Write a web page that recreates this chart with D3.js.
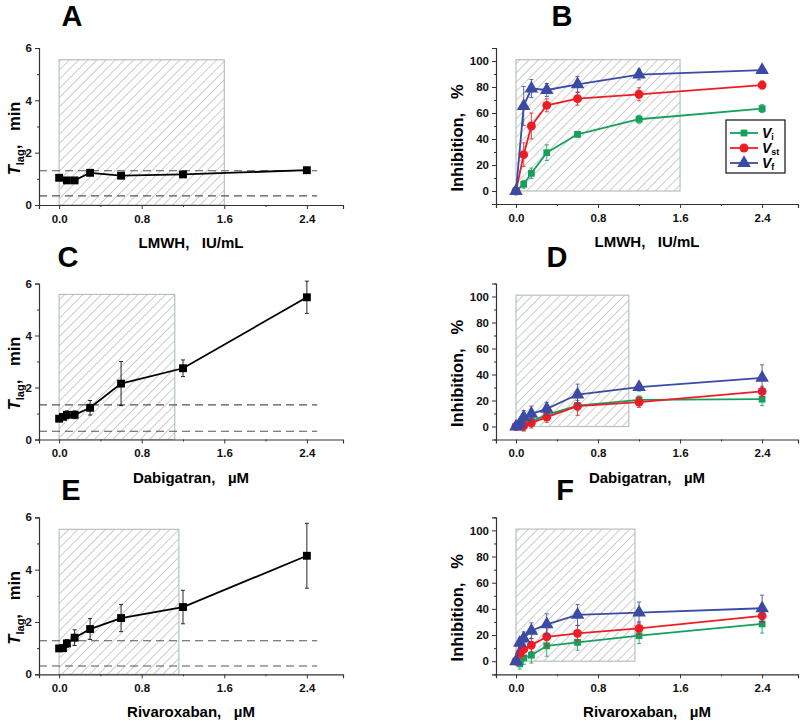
<!DOCTYPE html>
<html>
<head>
<script src="https://d3js.org/d3.v7.min.js"></script>
<style>
  body { margin: 0; background: #fff; }
  text { font-family: "Liberation Sans", Arial, sans-serif; }
</style>
</head>
<body>
<div id="chart"></div>
<script>
// ---- data ----
var dosesLmwh = [0, 0.075, 0.15, 0.3, 0.6, 1.2, 2.4];
var dosesOral = [0, 0.0375, 0.075, 0.15, 0.3, 0.6, 1.2, 2.4];

// T lag, min
var lmwhTlag    = [1.04, 0.94, 0.94, 1.23, 1.12, 1.17, 1.33];
var lmwhTlagErr = [0.08, 0.07, 0.07, 0.09, 0.09, 0.08, 0.1];
var dabiTlag    = [0.80, 0.87, 0.95, 0.95, 1.22, 2.15, 2.74, 5.47];
var dabiTlagErr = [0.08, 0.1, 0.15, 0.15, 0.28, 0.85, 0.32, 0.62];
var rivaTlag    = [0.99, 1.0, 1.18, 1.40, 1.73, 2.15, 2.57, 4.53];
var rivaTlagErr = [0.1, 0.1, 0.15, 0.3, 0.4, 0.52, 0.64, 1.24];

// inhibition, %
var lmwhVi  = [0, 5.2, 13.6, 29.5, 43.6, 55.2, 63.4];
var lmwhViErr  = [1, 3, 4, 6, 2, 3, 3];
var lmwhVst = [0, 28, 50, 65.9, 71, 74.4, 81.5];
var lmwhVstErr = [1, 9, 10, 5, 5, 5, 3];
var lmwhVf  = [0, 65.4, 78.8, 77.7, 82, 89.5, 93];
var lmwhVfErr  = [1, 15, 7, 5, 6, 4, 2];

var dabiVi  = [0, 1, 2, 4, 9, 16, 20.5, 21];
var dabiViErr  = [1, 3, 5, 4, 4, 4, 3, 5];
var dabiVst = [0, 0.5, 0.5, 2.8, 7.2, 15.6, 18.7, 27];
var dabiVstErr = [1, 3, 4, 4, 4, 7, 4, 4];
var dabiVf  = [0, 2, 7.2, 9.7, 13.6, 24.6, 30.3, 37.4];
var dabiVfErr  = [1, 3, 5, 6, 5, 8, 3, 10];

var rivaVi  = [0, -2, 2.6, 4.6, 11.8, 14.4, 19.5, 28.5];
var rivaViErr  = [1, 4, 5, 6, 8, 6, 6, 7];
var rivaVst = [0, 6, 9, 12.3, 18.7, 21.3, 25.1, 34.6];
var rivaVstErr = [1, 4, 5, 5, 7, 6, 5, 5];
var rivaVf  = [0, 14, 17.4, 23.3, 28.2, 35.4, 37.2, 40.5];
var rivaVfErr  = [1, 4, 5, 6, 8, 8, 8, 10];

// shaded therapeutic range (upper dose) and normal T lag band
var rangeLmwh = 1.6, rangeDabiT = 1.12, rangeDabiI = 1.1, rangeRivaT = 1.16, rangeRivaI = 1.16;
var normLmwh = [0.35, 1.31], normDabi = [0.32, 1.33], normRiva = [0.32, 1.28];

var xTicks = [0, 0.8, 1.6, 2.4], xMinor = [0.4, 1.2, 2.0];
var tTicks = [0, 2, 4, 6], tMinor = [1, 3, 5];
var iTicks = [0, 20, 40, 60, 80, 100], iMinor = [-10, 10, 30, 50, 70, 90, 110];

var seriesNames = ["i", "st", "f"];
var seriesColors = ["#17a05d", "#ee1d25", "#3a4aa5"];
var seriesShapes = [d3.symbolSquare, d3.symbolCircle, d3.symbolTriangle];

var W = 800, H = 721;
var svg = d3.select("#chart").append("svg").attr("width", W).attr("height", H);

var defs = svg.append("defs");
var pat = defs.append("pattern").attr("id", "hatch").attr("patternUnits", "userSpaceOnUse")
  .attr("width", 6.5).attr("height", 6.5).attr("patternTransform", "rotate(45)");
pat.append("line").attr("x1", 0).attr("y1", 0).attr("x2", 0).attr("y2", 6.5)
  .attr("stroke", "#8f8f8f").attr("stroke-width", 0.9);

var NB = "\u00a0";

function panel(o) {
  var g = svg.append("g");
  var x = d3.scaleLinear().domain([-0.195, 2.75]).range([o.left, o.left + o.w]);
  var y = d3.scaleLinear().domain(o.ydom).range([o.bottom, o.top]);

  // hatched range
  g.append("rect")
    .attr("x", x(0)).attr("y", y(o.hatchTop))
    .attr("width", x(o.hatchEnd) - x(0)).attr("height", y(o.ydom[0] < 0 ? 0 : o.ydom[0]) - y(o.hatchTop))
    .attr("fill", "url(#hatch)").attr("stroke", "#b4c2bc").attr("stroke-width", 1.2);

  // reference dashed lines
  if (o.norm) {
    o.norm.forEach(function(v) {
      g.append("line").attr("x1", o.left).attr("x2", x(2.5))
        .attr("y1", y(v)).attr("y2", y(v))
        .attr("stroke", "#555").attr("stroke-width", 1.1).attr("stroke-dasharray", "8,5");
    });
  }

  // axes
  var xa = g.append("g").attr("transform", "translate(0," + o.bottom + ")")
    .call(d3.axisBottom(x).tickValues(xTicks).tickSize(4).tickFormat(d3.format(".1f")));
  g.append("g").attr("transform", "translate(0," + o.bottom + ")")
    .call(d3.axisBottom(x).tickValues(xMinor).tickSize(2).tickFormat(""))
    .select(".domain").remove();
  g.append("g").attr("transform", "translate(" + o.left + ",0)")
    .call(d3.axisLeft(y).tickValues(o.yticks).tickSize(4).tickFormat(d3.format("d")));
  g.append("g").attr("transform", "translate(" + o.left + ",0)")
    .call(d3.axisLeft(y).tickValues(o.yminor).tickSize(2).tickFormat(""))
    .select(".domain").remove();
  g.selectAll(".domain").attr("stroke", "#333").attr("stroke-width", 1.2);
  g.selectAll(".tick line").attr("stroke", "#333");
  g.selectAll(".tick text").attr("font-weight", "bold").attr("font-size", 11.5).attr("fill", "#111")
    .attr("font-family", "Liberation Sans, Arial, sans-serif");
  xa.selectAll(".tick text").attr("dy", "0.95em");

  // series
  o.series.forEach(function(s) {
    var pts = o.xs.map(function(d, i) { return { x: d, y: s.y[i], e: s.e[i] }; });
    g.append("path").datum(pts)
      .attr("d", d3.line().x(function(d) { return x(d.x); }).y(function(d) { return y(d.y); }))
      .attr("fill", "none").attr("stroke", s.color).attr("stroke-width", 1.8);
    var eb = g.append("g").attr("stroke", s.color).attr("stroke-width", 1).attr("opacity", 0.85);
    pts.forEach(function(d) {
      eb.append("line").attr("x1", x(d.x)).attr("x2", x(d.x)).attr("y1", y(d.y - d.e)).attr("y2", y(d.y + d.e));
      [d.y - d.e, d.y + d.e].forEach(function(v) {
        eb.append("line").attr("x1", x(d.x) - 2).attr("x2", x(d.x) + 2).attr("y1", y(v)).attr("y2", y(v));
      });
    });
    g.selectAll(null).data(pts).enter().append("path")
      .attr("transform", function(d) { return "translate(" + x(d.x) + "," + y(d.y) + ")"; })
      .attr("d", d3.symbol().type(s.shape).size(s.size))
      .attr("fill", s.color);
  });

  // panel letter
  g.append("text").attr("x", o.letterX).attr("y", o.letterY).attr("text-anchor", "middle")
    .attr("font-size", 29).attr("font-weight", "bold").text(o.letter);

  // x label
  g.append("text").attr("x", o.left + o.w / 2).attr("y", o.bottom + 43).attr("text-anchor", "middle")
    .attr("font-size", 15).attr("font-weight", "bold").text(o.xlabel);

  // y label
  var yl = g.append("text")
    .attr("transform", "translate(" + o.ylabelX + "," + ((o.top + o.bottom) / 2 + 12) + ") rotate(-90)")
    .attr("text-anchor", "middle").attr("font-size", 16.5).attr("font-weight", "bold");
  if (o.tlag) {
    yl.append("tspan").attr("font-style", "italic").text("T");
    yl.append("tspan").attr("font-size", 11).attr("dy", 4).text("lag");
    yl.append("tspan").attr("dy", -4).text("," + NB + NB + NB + "min");
  } else {
    yl.text("Inhibition," + NB + NB + NB + "%");
  }
  return { g: g, x: x, y: y };
}

function tSeries(vals, errs) {
  return [{ y: vals, e: errs, color: "#000", shape: d3.symbolSquare, size: 62 }];
}
function iSeries(vi, viE, vst, vstE, vf, vfE) {
  var ys = [vi, vst, vf], es = [viE, vstE, vfE], sizes = [46, 62, 80];
  return ys.map(function(v, k) {
    return { y: v, e: es[k], color: seriesColors[k], shape: seriesShapes[k], size: sizes[k] };
  });
}

var L = 39, R = 496;
var rows = [{ top: 48, bottom: 205 }, { top: 283.5, bottom: 439.5 }, { top: 517.3, bottom: 674.3 }];

panel({ left: L, w: 304, top: rows[0].top, bottom: rows[0].bottom, ydom: [0, 6], yticks: tTicks, yminor: tMinor,
  xs: dosesLmwh, series: tSeries(lmwhTlag, lmwhTlagErr), hatchEnd: rangeLmwh, hatchTop: 5.55, norm: normLmwh,
  letter: "A", letterX: 72, letterY: 26, xlabel: "LMWH," + NB + NB + " IU/mL", tlag: true, ylabelX: 20 });
panel({ left: R, w: 302, top: rows[0].top, bottom: rows[0].bottom - 1, ydom: [-10, 110], yticks: iTicks, yminor: iMinor,
  xs: dosesLmwh, series: iSeries(lmwhVi, lmwhViErr, lmwhVst, lmwhVstErr, lmwhVf, lmwhVfErr), hatchEnd: rangeLmwh, hatchTop: 101,
  letter: "B", letterX: 562, letterY: 26, xlabel: "LMWH," + NB + NB + " IU/mL", ylabelX: 463 });
panel({ left: L, w: 304, top: rows[1].top, bottom: rows[1].bottom, ydom: [0, 6], yticks: tTicks, yminor: tMinor,
  xs: dosesOral, series: tSeries(dabiTlag, dabiTlagErr), hatchEnd: rangeDabiT, hatchTop: 5.58, norm: normDabi,
  letter: "C", letterX: 68, letterY: 267, xlabel: "Dabigatran," + NB + NB + " \u00b5M", tlag: true, ylabelX: 20 });
panel({ left: R, w: 302, top: rows[1].top, bottom: rows[1].bottom, ydom: [-10, 110], yticks: iTicks, yminor: iMinor,
  xs: dosesOral, series: iSeries(dabiVi, dabiViErr, dabiVst, dabiVstErr, dabiVf, dabiVfErr), hatchEnd: rangeDabiI, hatchTop: 101,
  letter: "D", letterX: 557, letterY: 267, xlabel: "Dabigatran," + NB + NB + " \u00b5M", ylabelX: 463 });
panel({ left: L, w: 304, top: rows[2].top, bottom: rows[2].bottom, ydom: [0, 6], yticks: tTicks, yminor: tMinor,
  xs: dosesOral, series: tSeries(rivaTlag, rivaTlagErr), hatchEnd: rangeRivaT, hatchTop: 5.54, norm: normRiva,
  letter: "E", letterX: 71, letterY: 500, xlabel: "Rivaroxaban," + NB + NB + " \u00b5M", tlag: true, ylabelX: 20 });
panel({ left: R, w: 302, top: rows[2].top, bottom: rows[2].bottom, ydom: [-10, 110], yticks: iTicks, yminor: iMinor,
  xs: dosesOral, series: iSeries(rivaVi, rivaViErr, rivaVst, rivaVstErr, rivaVf, rivaVfErr), hatchEnd: rangeRivaI, hatchTop: 101,
  letter: "F", letterX: 565, letterY: 500, xlabel: "Rivaroxaban," + NB + NB + " \u00b5M", ylabelX: 463 });

// legend in panel B
var lg = svg.append("g").attr("transform", "translate(726,120)");
lg.append("rect").attr("width", 59).attr("height", 53).attr("fill", "#fff").attr("stroke", "#111").attr("stroke-width", 1.2);
seriesNames.forEach(function(n, k) {
  var yy = 13 + k * 15;
  lg.append("line").attr("x1", 4).attr("x2", 32).attr("y1", yy).attr("y2", yy)
    .attr("stroke", seriesColors[k]).attr("stroke-width", 1.8);
  lg.append("path").attr("transform", "translate(18," + yy + ")")
    .attr("d", d3.symbol().type(seriesShapes[k]).size([46, 62, 80][k])).attr("fill", seriesColors[k]);
  var t = lg.append("text").attr("x", 36).attr("y", yy + 5).attr("font-size", 14).attr("font-weight", "bold");
  t.append("tspan").attr("font-style", "italic").text("V");
  t.append("tspan").attr("font-size", 9).attr("dy", 2).text(n);
});
</script>
</body>
</html>
